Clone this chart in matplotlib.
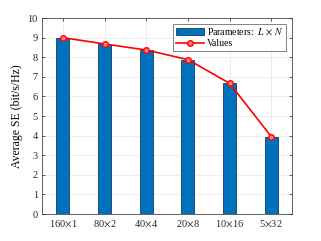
import matplotlib
matplotlib.use('Agg')
import matplotlib.pyplot as plt
import numpy as np

# data
categories = [r'160$\times$1', r'80$\times$2', r'40$\times$4', r'20$\times$8', r'10$\times$16', r'5$\times$32']
se_values = [9.0, 8.68, 8.37, 7.88, 6.67, 3.95]
y_ticks = list(range(0, 11))

plt.rcParams['font.family'] = ['Liberation Serif', 'DejaVu Serif']
plt.rcParams['mathtext.fontset'] = 'stix'

fig = plt.figure(figsize=(3.21, 2.41), dpi=100)
ax = fig.add_axes([0.131, 0.112, 0.779, 0.813])

x = np.arange(len(categories))
bars = ax.bar(x, se_values, width=0.31, color='#0072BD', edgecolor='#1a3a5a',
              linewidth=0.6, zorder=2)
line, = ax.plot(x, se_values, '-o', color='#FF0000', linewidth=1.2, markersize=4,
                markerfacecolor='#ff8080', markeredgecolor='#FF0000', markeredgewidth=1.0,
                zorder=3)

ax.set_xlim(-0.5, 5.5)
ax.set_ylim(0, 10)
ax.set_xticks(x)
ax.set_xticklabels(categories)
ax.set_yticks(y_ticks)
ax.set_ylabel('Average SE (bit/s/Hz)', fontsize=8.5, labelpad=3)
ax.tick_params(direction='in', labelsize=7.5, length=2, width=0.5,
               top=True, right=True, colors='#262626', pad=3)
ax.grid(True, color='#e6e6e6', linewidth=0.5, zorder=0)
ax.set_axisbelow(True)
for s in ax.spines.values():
    s.set_linewidth(0.5)
    s.set_color('#262626')

leg = ax.legend([bars, line], [r'Parameters:  $L\,\times\,N$', 'Values'],
                loc='upper right', fontsize=7, frameon=True, fancybox=False,
                edgecolor='#262626', borderpad=0.3, handlelength=2.8,
                handletextpad=0.3, labelspacing=0.2, borderaxespad=0.6)
leg.get_frame().set_linewidth(0.5)

fig.savefig('out.png', dpi=100)
